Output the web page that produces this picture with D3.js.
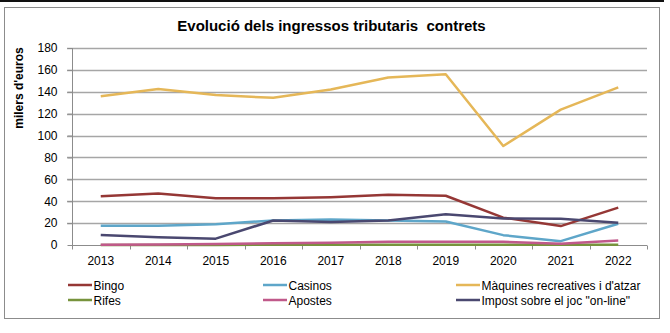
<!DOCTYPE html>
<html>
<head>
<meta charset="utf-8">
<script src="https://cdn.jsdelivr.net/npm/d3@7"></script>
<style>
  body { margin: 0; background: #fff; }
  svg text { font-family: Arial, "Liberation Sans", sans-serif; fill: #000; }
</style>
</head>
<body>
<svg width="670" height="333"></svg>
<script>
// ---> Data
const years = ["2013", "2014", "2015", "2016", "2017", "2018", "2019", "2020", "2021", "2022"];
const bingo = [44.6, 47, 42.7, 42.7, 43.7, 45.8, 45, 25, 17.3, 34.2];
const casinos = [17.6, 17.6, 19, 22.4, 23.4, 22.4, 21.5, 9, 3.5, 19.4];
const maquines = [136, 142.5, 137, 134.5, 142, 153, 156, 90.5, 123.7, 144];
const rifes = [0.1, 0.1, 0.1, 0.2, 0.2, 0.2, 0.2, 0.2, 0.2, 0.2];
const apostes = [0.3, 0.5, 1, 1.5, 2, 3, 3, 3, 1.2, 4];
const impost = [9.1, 7, 5.8, 22.4, 21, 22.4, 28.2, 24.3, 24, 20.3];
const yTicks = [0, 20, 40, 60, 80, 100, 120, 140, 160, 180];

const series = [
    {name: "Bingo", values: bingo, color: "#953735"},
    {name: "Casinos", values: casinos, color: "#5ea6c9"},
    {name: "Màquines recreatives i d'atzar", values: maquines, color: "#e5b758"},
    {name: "Rifes", values: rifes, color: "#77933c"},
    {name: "Apostes", values: apostes, color: "#c0598a"},
    {name: "Impost sobre el joc \"on-line\"", values: impost, color: "#4a4870"}
];
// draw order: later lines on top
const drawOrder = [2, 0, 1, 3, 4, 5];

const svg = d3.select("svg");

// top border line and chart frame
svg.append("rect").attr("x", 0).attr("y", 0).attr("width", 664).attr("height", 2).attr("fill", "#111");
svg.append("rect")
    .attr("x", 4.5).attr("y", 7.5).attr("width", 655).attr("height", 311)
    .attr("fill", "#fff").attr("stroke", "#8c8c8c").attr("stroke-width", 1);

// ---> Scales
const x = d3.scaleBand().domain(years).range([72, 647]);
const y = d3.scaleLinear().domain([0, 180]).range([245, 48]);

// gridlines
svg.append("g")
    .selectAll("line")
    .data(yTicks.filter(t => t > 0))
    .enter()
    .append("line")
    .attr("x1", 67).attr("x2", 647)
    .attr("y1", d => Math.round(y(d)) + 0.5).attr("y2", d => Math.round(y(d)) + 0.5)
    .attr("stroke", "#a6a6a6").attr("stroke-width", 1.3);

// y axis
const yAxis = d3.axisLeft(y).tickValues(yTicks).tickSize(5).tickPadding(10).tickFormat(d3.format("d"));
const gy = svg.append("g").attr("transform", "translate(72.5,0)").call(yAxis);
gy.select(".domain").attr("stroke", "#8c8c8c").attr("d", "M0," + y(180) + "V" + (y(0) + 0.5));
gy.selectAll(".tick line").attr("stroke", "#8c8c8c");
gy.selectAll(".tick text").style("font-size", "12px").attr("fill", "#000");

// x axis with ticks at category boundaries
const gx = svg.append("g").attr("transform", "translate(0," + (Math.round(y(0)) + 0.5) + ")");
gx.append("line").attr("x1", 72).attr("x2", 647).attr("stroke", "#8c8c8c");
gx.selectAll("line.tk")
    .data(years.concat(["end"]))
    .enter()
    .append("line")
    .attr("class", "tk")
    .attr("x1", (d, i) => Math.round(72 + i * x.bandwidth()) + 0.5)
    .attr("x2", (d, i) => Math.round(72 + i * x.bandwidth()) + 0.5)
    .attr("y1", 0).attr("y2", 4)
    .attr("stroke", "#8c8c8c");
gx.selectAll("text")
    .data(years)
    .enter()
    .append("text")
    .attr("x", d => x(d) + x.bandwidth() / 2)
    .attr("y", 19)
    .attr("text-anchor", "middle")
    .style("font-size", "12px")
    .text(d => d);

// ---> Lines
const line = d3.line()
    .x((d, i) => x(years[i]) + x.bandwidth() / 2)
    .y(d => y(d));

svg.append("g")
    .selectAll("path")
    .data(drawOrder.map(i => series[i]))
    .enter()
    .append("path")
    .attr("d", d => line(d.values))
    .attr("fill", "none")
    .attr("stroke", d => d.color)
    .attr("stroke-width", 2.5)
    .attr("stroke-linejoin", "round");

// title (keeps the double space of the original)
const title = svg.append("text")
    .attr("x", 331.5).attr("y", 31)
    .attr("text-anchor", "middle")
    .style("font-size", "15px").style("font-weight", "bold")
    .style("white-space", "pre")
    .text("Evolució dels ingressos tributaris  contrets");
if (title.node().getComputedTextLength() > 309) {
    title.attr("textLength", 309).attr("lengthAdjust", "spacingAndGlyphs");
}

// y axis label
svg.append("text")
    .attr("transform", "translate(23,88) rotate(-90)")
    .attr("text-anchor", "middle")
    .style("font-size", "12px").style("font-weight", "bold")
    .text("milers d'euros");

// ---> Legend
const legendX = [68, 263, 456];
const legendY = [285, 300];
const legend = svg.append("g")
    .selectAll("g")
    .data(series)
    .enter()
    .append("g")
    .attr("transform", (d, i) => "translate(" + legendX[i % 3] + "," + legendY[Math.floor(i / 3)] + ")");
legend.append("line")
    .attr("x1", 0).attr("x2", 24)
    .attr("stroke", d => d.color).attr("stroke-width", 2.5);
legend.append("text")
    .attr("x", 25.5).attr("y", 4.5)
    .style("font-size", "12px")
    .text(d => d.name);
</script>
</body>
</html>
